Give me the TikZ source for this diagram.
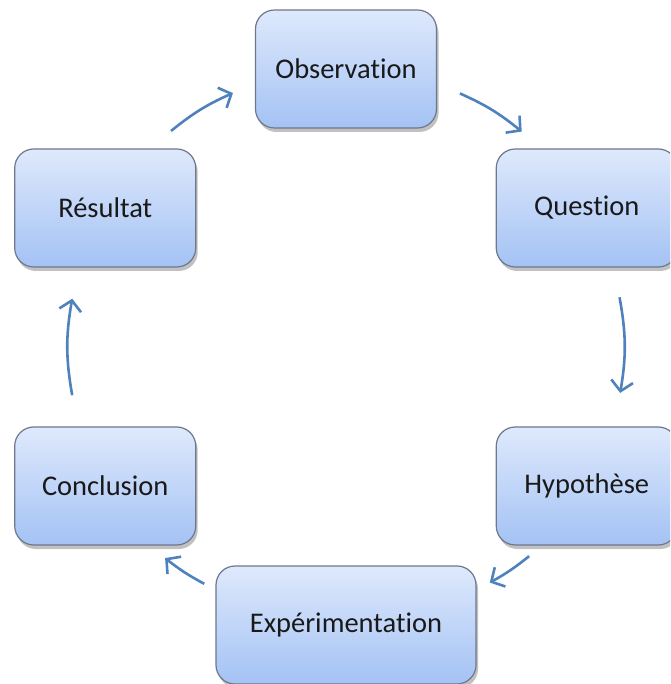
\documentclass[tikz,border=0pt]{standalone}
\usepackage{fontspec}
\setmainfont{Carlito}[Ligatures={NoCommon,NoRare}]
\usetikzlibrary{arrows.meta,shadows}
\definecolor{boxtop}{RGB}{222,233,252}
\definecolor{boxbot}{RGB}{164,194,244}
\definecolor{boxline}{RGB}{110,120,140}
\definecolor{arrowblue}{RGB}{79,129,189}
\tikzset{
	stepbox/.style={rectangle, rounded corners=19pt, draw=boxline, line width=1.2pt,
		top color=boxtop, bottom color=boxbot, minimum width=181pt, minimum height=118pt,
		drop shadow={shadow xshift=2pt, shadow yshift=-4pt, opacity=0.35, fill=black!70},
		font=\fontsize{28.5}{34}\selectfont, text=black!90},
	cyclearrow/.style={draw=arrowblue, line width=2.6pt, -{Straight Barb[length=10pt,width=22pt]}}
}
\begin{document}
\begin{tikzpicture}[x=1pt, y=1pt]
		\clip (-346,-337) rectangle (324,347);
		
		\node (obs) [stepbox] at (90:278pt) {Observation};
		
		\node (quest) [stepbox] at (30:278pt) {Question};
		
		\node (hyp) [stepbox] at (-30:278pt) {Hypothèse};
		
		\node (exp) [stepbox, minimum width=260pt] at (-90:278pt) {Expérimentation};
		
		\node (concl) [stepbox] at (-150:278pt) {Conclusion};
		
		\node (res) [stepbox] at (150:278pt) {Résultat};
		
		\coordinate (obsout) at (65.8:278pt);
		\coordinate (questin) at (50.8:278pt);
		\coordinate (questout) at (10.3:278pt);
		\coordinate (hypin) at (-9.5:278pt);
		\coordinate (hypout) at (-48.8:278pt);
		\coordinate (expin) at (-58.6:276pt);
		\coordinate (expout) at (-120.9:276pt);
		\coordinate (conclin) at (-130.6:278pt);
		\coordinate (conclout) at (-170:278pt);
		\coordinate (resin) at (170:278pt);
		\coordinate (resout) at (129:278pt);
		\coordinate (obsin) at (114:278pt);
		
		\draw [cyclearrow] (obsout) to [bend left=7.5] (questin);
		\draw [cyclearrow] (questout) to [bend left=10] (hypin);
		\draw [cyclearrow] (hypout) to [bend left=5] (expin);
		\draw [cyclearrow] (expout) to [bend left=5] (conclin);
		\draw [cyclearrow] (conclout) to [bend left=10] (resin);
		\draw [cyclearrow] (resout) to [bend left=7.5] (obsin);
		
\end{tikzpicture}
\end{document}
